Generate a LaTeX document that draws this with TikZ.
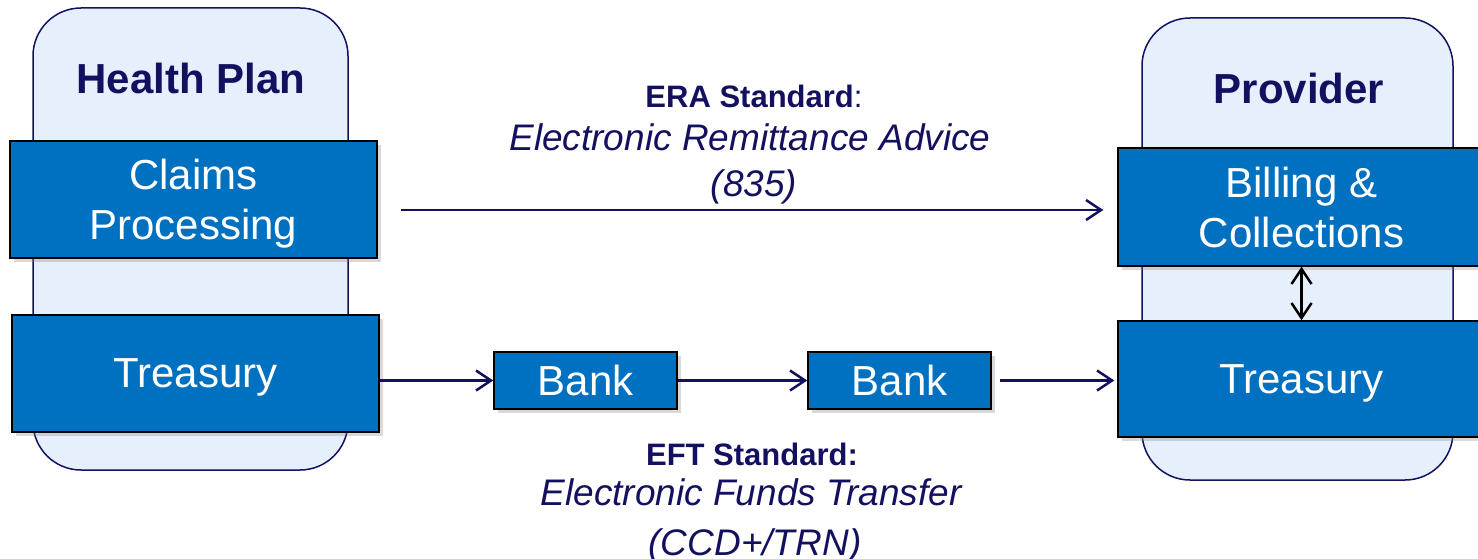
\documentclass[tikz,border=0pt]{standalone}
\usepackage{fontspec}
\setmainfont{Liberation Sans}
\usetikzlibrary{arrows.meta,shadows}
\definecolor{navy}{RGB}{20,16,96}
\definecolor{boxblue}{RGB}{0,112,192}
\definecolor{panelblue}{RGB}{230,240,253}
\tikzset{
	panel/.style={draw=navy,fill=panelblue,line width=1.5pt,rounded corners=48pt},
	unit/.style={draw=black,fill=boxblue,line width=1.5pt,text=white,align=center,
		font=\fontsize{42}{50}\selectfont,inner sep=0pt,text depth=0pt,
		drop shadow={shadow xshift=4pt,shadow yshift=-4pt,opacity=.3}},
	flow/.style={draw=navy,line width=2.5pt,-{Straight Barb[length=15pt,width=20pt]}},
	title/.style={text=navy,font=\fontsize{42}{50}\selectfont\bfseries,anchor=base},
	stdhead/.style={text=navy,font=\fontsize{31}{37}\selectfont,anchor=base},
	stdtext/.style={text=navy,font=\fontsize{37}{45}\selectfont\itshape,anchor=base}
}
\begin{document}
\begin{tikzpicture}[x=1pt,y=-1pt]
		\useasboundingbox (0,0) rectangle (1478,559);
		\draw[panel] (33,8) rectangle (348,470);
		\draw[panel] (1142,18) rectangle (1453,480);
		\node[title] (hp) at (191,94) {Health Plan};
		\node[title] (prov) at (1299,104) {Provider};
		\node[unit,minimum width=367pt,minimum height=117pt] (claims) at (193.5,199.5) {Claims\\Processing};
		\node[unit,minimum width=367pt,minimum height=117pt] (treasL) at (195.5,373.5) {Treasury};
		\node[unit,minimum width=367pt,minimum height=118pt] (bill) at (1301.5,207) {Billing \&\\Collections};
		\node[unit,minimum width=367pt,minimum height=116pt] (treasR) at (1301.5,379) {Treasury};
		\node[unit,minimum width=183pt,minimum height=57pt] (bank1) at (585.5,380.5) {Bank};
		\node[unit,minimum width=183pt,minimum height=57pt] (bank2) at (899.5,380.5) {Bank};
		\node[stdhead] (eraHead) at (754,108) {\textbf{ERA Standard}:};
		\node[stdtext] (eraName) at (750,150) {Electronic Remittance Advice};
		\node[stdtext] (eraCode) at (754,196) {(835)};
		\node[stdhead] (eftHead) at (752,465) {\textbf{EFT Standard:}};
		\node[stdtext] (eftName) at (751,505) {Electronic Funds Transfer};
		\node[stdtext] (eftCode) at (755,555) {(CCD+/TRN)};
		\draw[flow,shorten <=23pt,shorten >=14pt] ([yshift=-10.5pt]claims.east) -- ([yshift=-3pt]bill.west);
		\draw[flow] (treasL.east |- bank1.west) -- (bank1.west);
		\draw[flow] (bank1.east) -- (bank2.west);
		\draw[flow,shorten <=8pt,shorten >=3pt] (bank2.east) -- (bank2.east -| treasR.west);
		\draw[line width=2.5pt,{Straight Barb[length=15pt,width=20pt]}-{Straight Barb[length=15pt,width=20pt]}] (bill.south) -- (treasR.north);
	\end{tikzpicture}
\end{document}
